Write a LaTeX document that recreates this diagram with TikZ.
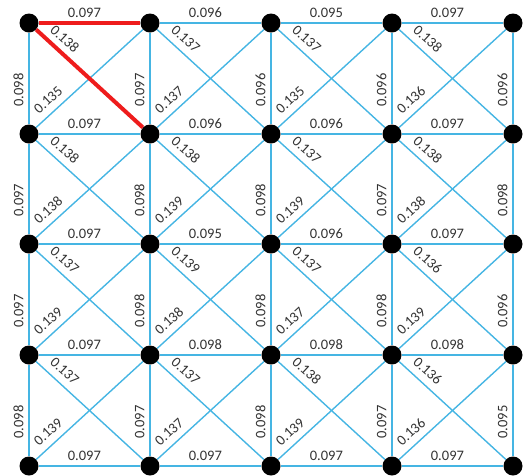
\documentclass[tikz,border=0pt]{standalone}
\usepackage{fontspec}
\setmainfont{Carlito}
\usepackage{tikz}
\usetikzlibrary{positioning}
\definecolor{Grid_Blue}{HTML}{45B5E3}
\definecolor{Path_Red}{HTML}{EE1C1C}
\definecolor{Label_Gray}{HTML}{333333}

\tikzset{
  vertex/.style={circle, fill=black, inner sep=0pt, minimum size=19pt},
  edge/.style={draw=Grid_Blue, line width=1.4pt},
  hot/.style={draw=Path_Red, line width=4pt},
  wlab/.style={font=\fontsize{14.5}{14.5}\selectfont, text=Label_Gray, inner sep=1pt, outer sep=4.5pt, sloped, above},
  dlab/.style={wlab, outer sep=6.5pt, pos=0.19},
}

\begin{document}
\begin{tikzpicture}[x=1pt, y=-1pt]
  \useasboundingbox (0,0) rectangle (523,475);
  % vertices
  \foreach \r/\y in {0/23,1/134,2/244,3/355,4/466}
    \foreach \c/\x in {0/29,1/150,2/271,3/392,4/513}
      \node[vertex] (v-\r-\c) at (\x,\y) {};
  % horizontal edges, one list per row
  \foreach \ws [count=\r from 0] in {{0.097,0.096,0.095,0.097},{0.097,0.096,0.096,0.097},
      {0.097,0.095,0.096,0.097},{0.097,0.098,0.098,0.098},{0.097,0.097,0.097,0.097}}
    \foreach \w [count=\c from 0] in \ws {
      \pgfmathtruncatemacro\d{\c+1}
      \def\st{edge}\ifnum\r\c=00 \def\st{hot}\fi
      \draw[\st] (v-\r-\c) -- node[wlab, pos=0.45] {\w} (v-\r-\d);
    }
  % vertical edges, one list per column (drawn upwards)
  \foreach \ws [count=\c from 0] in {{0.098,0.097,0.097,0.098},{0.097,0.098,0.098,0.097},
      {0.096,0.098,0.098,0.098},{0.096,0.097,0.098,0.097},{0.096,0.098,0.096,0.095}}
    \foreach \w [count=\r from 0] in \ws {
      \pgfmathtruncatemacro\d{\r+1}
      \draw[edge] (v-\d-\c) -- node[wlab, pos=0.375] {\w} (v-\r-\c);
    }
  % diagonals: \ label / label
  \foreach \ws [count=\r from 0] in {{0.138/0.135,0.137/0.137,0.137/0.135,0.138/0.136},
      {0.138/0.138,0.138/0.139,0.137/0.139,0.138/0.138},
      {0.137/0.139,0.139/0.138,0.137/0.137,0.136/0.139},
      {0.137/0.139,0.137/0.137,0.138/0.139,0.136/0.136}} {
    \pgfmathtruncatemacro\s{\r+1}
    \foreach \a/\b [count=\c from 0] in \ws {
      \pgfmathtruncatemacro\d{\c+1}
      \def\st{edge}\ifnum\r\c=00 \def\st{hot}\fi
      \draw[edge] (v-\s-\c) -- node[dlab] {\b} (v-\r-\d);
      \draw[\st] (v-\r-\c) -- node[dlab] {\a} (v-\s-\d);
    }
  }
\end{tikzpicture}
\end{document}
